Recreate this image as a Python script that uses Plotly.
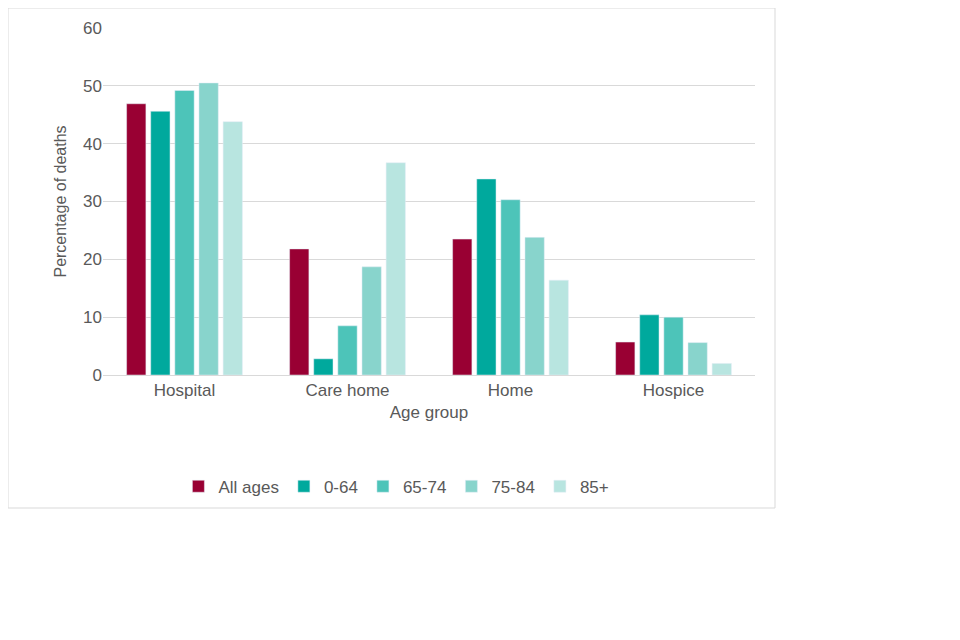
import plotly.graph_objects as go

places = ["Hospital", "Care home", "Home", "Hospice"]
series = ["All ages", "0-64", "65-74", "75-84", "85+"]
values = {
    "All ages": [46.9, 21.8, 23.5, 5.7],
    "0-64": [45.6, 2.8, 33.9, 10.4],
    "65-74": [49.2, 8.5, 30.3, 10.0],
    "75-84": [50.5, 18.7, 23.8, 5.6],
    "85+": [43.8, 36.7, 16.4, 2.0],
}
colors = ["#990033", "#00a99d", "#4dc4b9", "#88d4cc", "#b8e5e0"]

fig = go.Figure()
for name, c in zip(series, colors):
    fig.add_trace(go.Bar(x=places, y=values[name], name=name, marker_color=c))

W, H = 652, 347
fig.add_shape(type="rect", xref="paper", yref="paper",
              x0=-95 / W, x1=(767 - 95) / W, y0=(367 - 500) / H, y1=1 + 20 / H,
              line=dict(color="#d9d9d9", width=1), fillcolor="rgba(0,0,0,0)")

fig.update_layout(
    width=960, height=640,
    margin=dict(l=95, r=213, t=20, b=273),
    paper_bgcolor="white", plot_bgcolor="white",
    font=dict(family="Liberation Sans, Arial", size=17, color="#595959"),
    barmode="group", bargap=0.26, bargroupgap=0.2,
    showlegend=True,
    legend=dict(orientation="h", x=0.45, xanchor="center", y=-0.27, yanchor="top",
                font=dict(size=17), itemwidth=30),
    xaxis=dict(title=dict(text="Age group", standoff=6, font=dict(size=17)), showline=True,
               linecolor="#d9d9d9", ticks="", automargin=False),
    yaxis=dict(title=dict(text="Percentage of deaths", standoff=12, font=dict(size=16)),
               range=[0, 60], dtick=10, gridcolor="#d9d9d9", zeroline=False,
               automargin=False),
)
fig.write_html("out.html")
